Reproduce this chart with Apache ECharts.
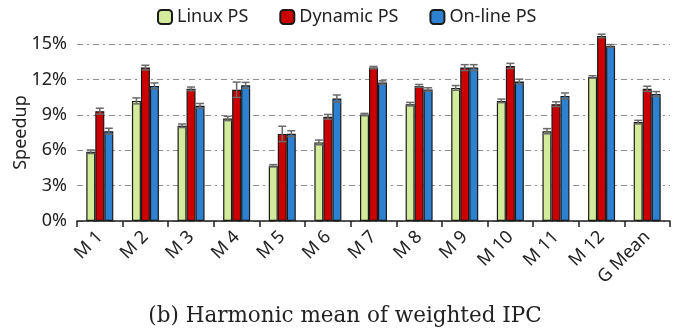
<!DOCTYPE html>
<html><head><meta charset="utf-8">
<script src="https://cdn.jsdelivr.net/npm/echarts@6/dist/echarts.min.js"></script>
<style>html,body{margin:0;padding:0;background:#fff}#c{width:679px;height:335px}</style>
</head><body><div id="c"></div>
<script>
const categories = ['M 1','M 2','M 3','M 4','M 5','M 6','M 7','M 8','M 9','M 10','M 11','M 12','G Mean'];
const seriesNames = ['Linux PS','Dynamic PS','On-line PS'];
const linuxPS   = [5.87, 10.18, 8.07, 8.69, 4.68, 6.66, 9.02, 9.90, 11.28, 10.18, 7.61, 12.21, 8.38];
const dynamicPS = [9.31, 13.00, 11.20, 11.12, 7.38, 8.83, 13.00, 11.45, 13.00, 13.14, 9.90, 15.68, 11.20];
const onlinePS  = [7.61, 11.45, 9.76, 11.50, 7.40, 10.38, 11.73, 11.14, 13.00, 11.82, 10.60, 14.83, 10.77];
const linuxErr   = [0.15, 0.25, 0.15, 0.18, 0.10, 0.20, 0.10, 0.15, 0.20, 0.15, 0.22, 0.10, 0.15];
const dynamicErr = [0.25, 0.20, 0.15, 0.65, 0.65, 0.20, 0.10, 0.12, 0.25, 0.22, 0.20, 0.15, 0.22];
const onlineErr  = [0.25, 0.25, 0.20, 0.25, 0.25, 0.30, 0.15, 0.15, 0.25, 0.20, 0.25, 0.12, 0.20];
const yTicks = [0, 3, 6, 9, 12, 15];
const caption = '(b) Harmonic mean of weighted IPC';

const colors = ['#d3eb9a', '#cc0000', '#2e80d0'];
const values = [linuxPS, dynamicPS, onlinePS];
const errs = [linuxErr, dynamicErr, onlineErr];
const BW = 9;
const font = 'Noto Sans';

const chart = echarts.init(document.getElementById('c'));
const series = [];
values.forEach((v, i) => {
  series.push({
    name: seriesNames[i], type: 'bar', data: v, barWidth: BW, barGap: '0%', clip: false,
    itemStyle: {color: colors[i], borderColor: '#1a1a1a', borderWidth: 1.2}
  });
});
values.forEach((v, i) => {
  series.push({
    type: 'custom', clip: false, silent: true, z: 5,
    data: v.map((val, k) => [k, val - errs[i][k], val + errs[i][k]]),
    encode: {x: 0, y: [1, 2]},
    renderItem: function (params, api) {
      const lo = api.coord([api.value(0), api.value(1)]);
      const hi = api.coord([api.value(0), api.value(2)]);
      const x = lo[0] + (i - 1) * BW;
      const c = 4;
      const st = {stroke: '#6a6a6a', lineWidth: 1.5};
      return {type: 'group', children: [
        {type: 'line', shape: {x1: x, y1: lo[1], x2: x, y2: hi[1]}, style: st},
        {type: 'line', shape: {x1: x - c, y1: lo[1], x2: x + c, y2: lo[1]}, style: st},
        {type: 'line', shape: {x1: x - c, y1: hi[1], x2: x + c, y2: hi[1]}, style: st}
      ]};
    }
  });
});

chart.setOption({
  animation: false,
  title: {text: caption, left: 340, textAlign: 'center', top: 300,
    textStyle: {fontFamily: 'DejaVu Serif', fontSize: 21.5, fontWeight: 'normal', color: '#222'}},
  legend: {top: 3, left: 152, itemWidth: 14, itemHeight: 14, itemGap: 31,
    data: seriesNames,
    textStyle: {fontFamily: font, fontSize: 18, color: '#222'}},
  grid: {left: 77, right: 9, top: 44, bottom: 114, containLabel: false, outerBoundsMode: 'none'},
  xAxis: {type: 'category', data: categories,
    axisLine: {lineStyle: {color: '#222', width: 1.5}},
    axisTick: {show: true, length: 6, lineStyle: {color: '#222', width: 1.5}},
    axisLabel: {rotate: 45, fontFamily: font, fontSize: 18, color: '#222', margin: 13, interval: 0}},
  yAxis: {type: 'value', min: yTicks[0], max: yTicks[yTicks.length - 1], interval: 3,
    name: 'Speedup', nameLocation: 'middle', nameGap: 47, nameRotate: 90, nameMoveOverlap: false,
    nameTextStyle: {fontFamily: font, fontSize: 18, color: '#222'},
    axisLine: {show: false}, axisTick: {show: false},
    axisLabel: {formatter: '{value}%', fontFamily: font, fontSize: 18, color: '#222', margin: 10},
    splitLine: {lineStyle: {color: '#8c8c8c', width: 1.2, type: [6, 4, 2, 4]}}},
  series: series
});
</script></body></html>
